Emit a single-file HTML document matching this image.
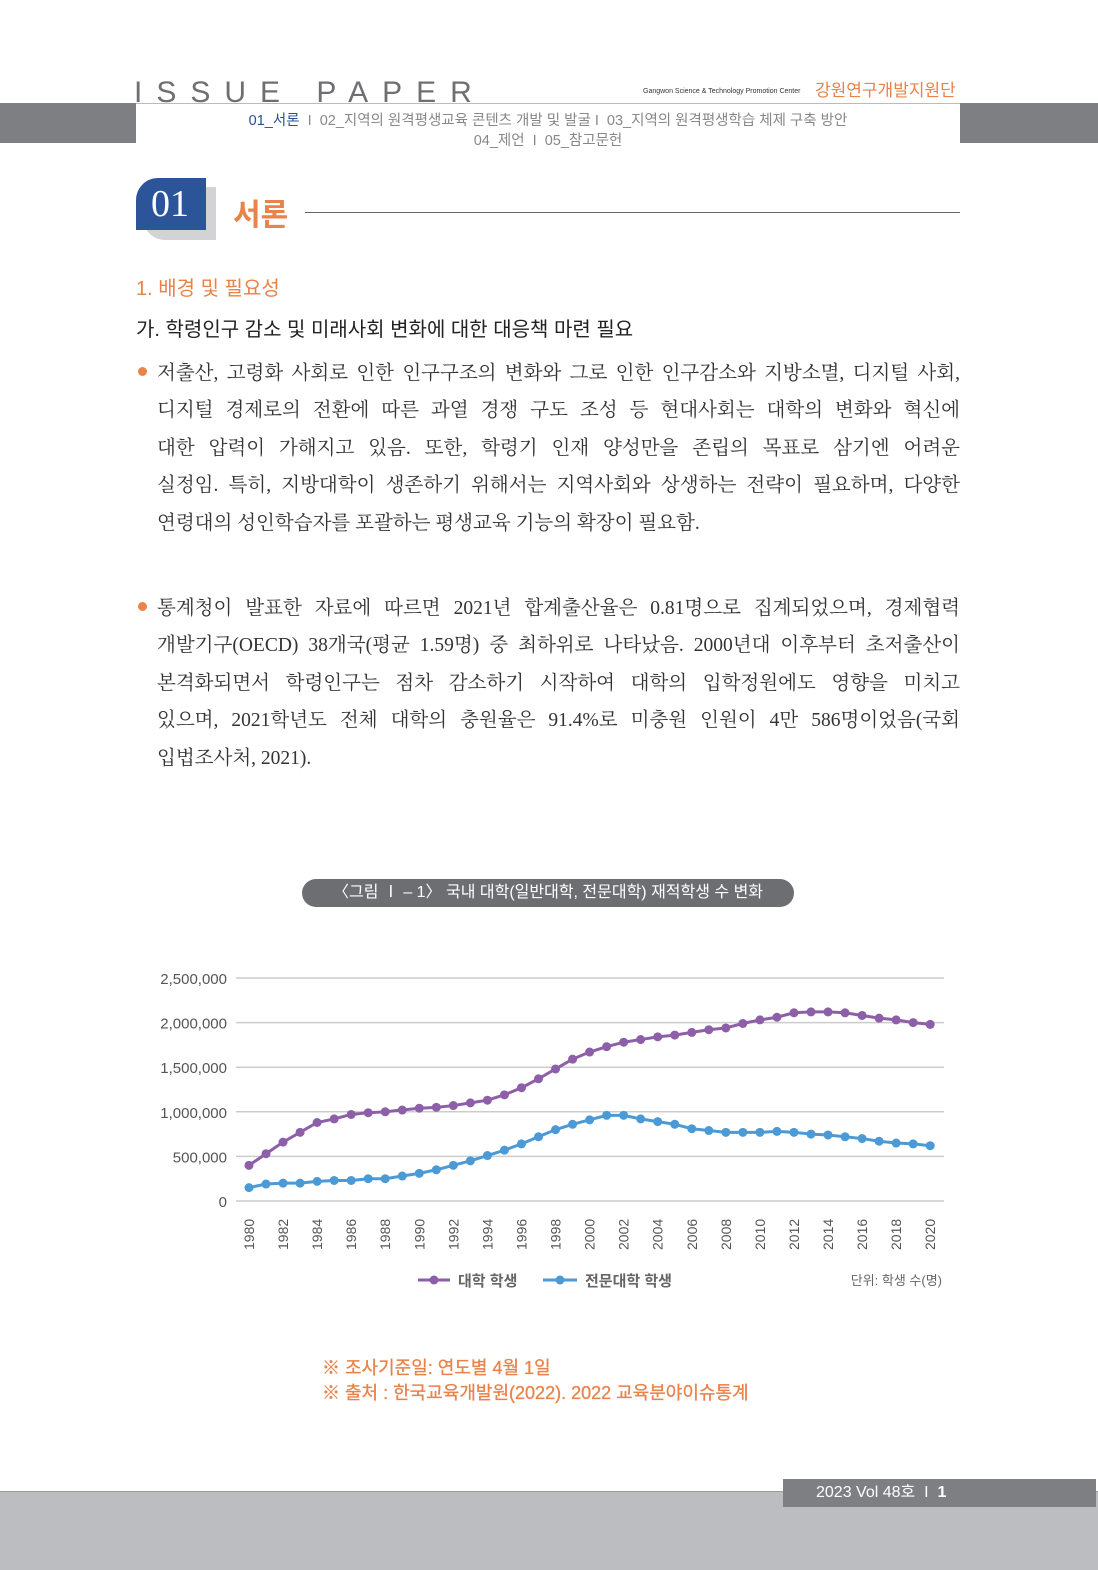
<!DOCTYPE html>
<html><head><meta charset="utf-8">
<style>
body{margin:0;width:1098px;height:1570px;background:#fff;position:relative;overflow:hidden;font-family:"Liberation Sans","Noto Sans CJK KR",sans-serif;}
.abs{position:absolute;}
.line{position:absolute;left:157px;width:803px;font-family:"Liberation Serif","Noto Serif CJK KR",serif;font-size:19.5px;color:#333;text-align:justify;text-align-last:justify;white-space:nowrap;line-height:26px;}
.line.last{text-align-last:left;}
</style></head><body>
<div class="abs" style="left:134px;top:76px;font-size:30px;letter-spacing:14px;color:#6f6f72;line-height:34px;">ISSUE PAPER</div>
<div class="abs" style="left:643px;top:88px;font-size:7px;color:#333;">Gangwon Science &amp; Technology Promotion Center</div>
<div class="abs" style="left:815px;top:76px;font-size:17px;color:#e8834a;">강원연구개발지원단</div>
<div class="abs" style="left:0;top:103px;width:136px;height:40px;background:#7e7f82;"></div>
<div class="abs" style="left:960px;top:103px;width:138px;height:40px;background:#7e7f82;"></div>
<div class="abs" style="left:136px;top:103px;width:824px;height:1px;background:#bbb;"></div>
<div class="abs" style="left:136px;top:111px;width:824px;text-align:center;font-size:14.5px;color:#888;line-height:20px;"><span style="color:#2c4e9a">01_서론</span> &nbsp;I&nbsp; 02_지역의 원격평생교육 콘텐츠 개발 및 발굴 I&nbsp; 03_지역의 원격평생학습 체제 구축 방안<br>04_제언 &nbsp;I&nbsp; 05_참고문헌</div>
<div class="abs" style="left:143px;top:187px;width:73px;height:53px;background:#d3d3d5;border-radius:0 0 0 22px;"></div>
<div class="abs" style="left:136px;top:178px;width:70px;height:52px;background:#2c5599;border-radius:22px 0 0 0;color:#fff;font-family:'Liberation Serif',serif;font-size:38px;line-height:52px;text-indent:15px;">01</div>
<div class="abs" style="left:233px;top:190px;font-size:30px;font-weight:bold;color:#e8834a;">서론</div>
<div class="abs" style="left:305px;top:212px;width:655px;height:1px;background:#666;"></div>
<div class="abs" style="left:136px;top:272px;font-size:20px;color:#e8834a;">1. 배경 및 필요성</div>
<div class="abs" style="left:136px;top:313px;font-size:20px;color:#222;">가. 학령인구 감소 및 미래사회 변화에 대한 대응책 마련 필요</div>
<div class="abs" style="left:138px;top:367px;width:9px;height:9px;border-radius:50%;background:#e8834a;"></div>
<div class="line" style="top:361px">저출산, 고령화 사회로 인한 인구구조의 변화와 그로 인한 인구감소와 지방소멸, 디지털 사회,</div>
<div class="line" style="top:398px">디지털 경제로의 전환에 따른 과열 경쟁 구도 조성 등 현대사회는 대학의 변화와 혁신에</div>
<div class="line" style="top:436px">대한 압력이 가해지고 있음. 또한, 학령기 인재 양성만을 존립의 목표로 삼기엔 어려운</div>
<div class="line" style="top:473px">실정임. 특히, 지방대학이 생존하기 위해서는 지역사회와 상생하는 전략이 필요하며, 다양한</div>
<div class="line last" style="top:511px">연령대의 성인학습자를 포괄하는 평생교육 기능의 확장이 필요함.</div>
<div class="abs" style="left:138px;top:602px;width:9px;height:9px;border-radius:50%;background:#e8834a;"></div>
<div class="line" style="top:596px">통계청이 발표한 자료에 따르면 2021년 합계출산율은 0.81명으로 집계되었으며, 경제협력</div>
<div class="line" style="top:633px">개발기구(OECD) 38개국(평균 1.59명) 중 최하위로 나타났음. 2000년대 이후부터 초저출산이</div>
<div class="line" style="top:671px">본격화되면서 학령인구는 점차 감소하기 시작하여 대학의 입학정원에도 영향을 미치고</div>
<div class="line" style="top:708px">있으며, 2021학년도 전체 대학의 충원율은 91.4%로 미충원 인원이 4만 586명이었음(국회</div>
<div class="line last" style="top:746px">입법조사처, 2021).</div>
<div class="abs" style="left:302px;top:879px;width:492px;height:28px;border-radius:14px;background:#6d6e71;color:#fff;font-size:16px;line-height:28px;text-align:center;">〈그림 Ⅰ – 1〉 국내 대학(일반대학, 전문대학) 재적학생 수 변화</div>
<svg class="abs" style="left:0;top:0" width="1098" height="1570" id="ch"></svg>
<div class="abs" style="left:322px;top:1356px;font-size:18px;color:#e8834a;line-height:25px;-webkit-text-stroke:0.3px #e8834a;">※ 조사기준일: 연도별 4월 1일<br>※ 출처 : 한국교육개발원(2022). 2022 교육분야이슈통계</div>
<div class="abs" style="left:0;top:1491px;width:1098px;height:79px;background:#bcbdc0;"></div>
<div class="abs" style="left:0;top:1491px;width:1098px;height:1px;background:#999;"></div>
<div class="abs" style="left:783px;top:1479px;width:313px;height:28px;background:#7e7f82;color:#fff;font-size:16px;line-height:28px;text-indent:33px;">2023 Vol 48호 &nbsp;I&nbsp; <b>1</b></div>
<script>
var P=[400,530,660,770,880,920,970,990,1000,1020,1040,1050,1070,1100,1130,1190,1270,1370,1480,1590,1670,1730,1780,1810,1840,1860,1890,1920,1940,1990,2030,2060,2110,2120,2120,2110,2080,2050,2030,2000,1980];
var B=[150,190,200,200,220,230,230,250,250,280,310,350,400,450,510,570,640,720,800,860,910,960,960,920,890,860,810,790,770,770,770,780,770,750,740,720,700,670,650,640,620];
var s='',y0=1201,k=44.6/500,x0=249,dx=17.03;
for(var i=0;i<=5;i++){var y=y0-i*500*k;s+='<line x1="236" x2="944" y1="'+y+'" y2="'+y+'" stroke="#ccc" stroke-width="1.5"/>';
s+='<text x="227" y="'+(y+6)+'" text-anchor="end" font-size="15" fill="#555" font-family="Liberation Sans">'+(i?(i*500000).toLocaleString('en-US'):'0')+'</text>';}
for(var i=0;i<=40;i+=2){var x=x0+i*dx;s+='<text transform="translate('+(x+5)+',1250) rotate(-90)" font-size="14" fill="#555" font-family="Liberation Sans">'+(1980+i)+'</text>';}
function ser(d,c){var p='',q='';d.forEach(function(v,i){var x=x0+i*dx,y=y0-v*k;p+=x+','+y+' ';q+='<circle cx="'+x+'" cy="'+y+'" r="4.5" fill="'+c+'"/>';});return '<polyline points="'+p+'" fill="none" stroke="'+c+'" stroke-width="3"/>'+q;}
s+=ser(P,'#8c5fa8')+ser(B,'#4b9ad6');
s+='<line x1="418" x2="450" y1="1280" y2="1280" stroke="#8c5fa8" stroke-width="3"/><circle cx="434" cy="1280" r="4.5" fill="#8c5fa8"/>';
s+='<text x="458" y="1286" font-size="15" font-weight="bold" fill="#666" font-family="Liberation Sans,Noto Sans CJK KR">대학 학생</text>';
s+='<line x1="543" x2="577" y1="1280" y2="1280" stroke="#4b9ad6" stroke-width="3"/><circle cx="560" cy="1280" r="4.5" fill="#4b9ad6"/>';
s+='<text x="585" y="1286" font-size="15" font-weight="bold" fill="#666" font-family="Liberation Sans,Noto Sans CJK KR">전문대학 학생</text>';
s+='<text x="942" y="1285" text-anchor="end" font-size="13" fill="#666" font-family="Liberation Sans,Noto Sans CJK KR">단위: 학생 수(명)</text>';
document.getElementById('ch').innerHTML=s;
</script>
</body></html>
